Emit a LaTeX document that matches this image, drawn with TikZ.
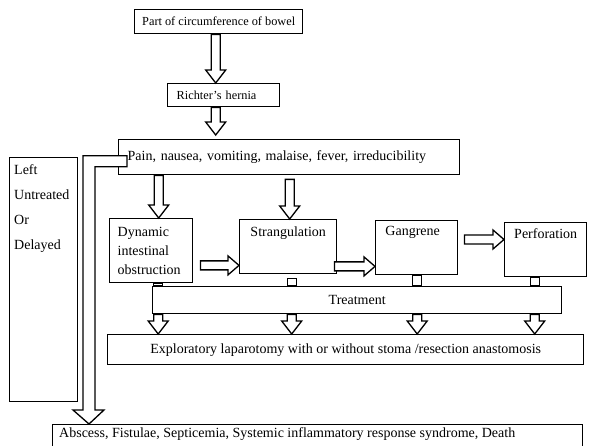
\documentclass[tikz,border=0pt]{standalone}
\usepackage{fontspec}
\setmainfont{Liberation Serif}
\usetikzlibrary{calc}

\newcommand{\txtbig}{\fontsize{14}{16}\selectfont}
\newcommand{\txtsmall}{\fontsize{12.3}{14}\selectfont}

\tikzset{
  box/.style={draw, line width=1.4pt, anchor=north west, inner sep=0pt, font=\txtbig},
  blockarrow/.style={draw, line width=1.3pt, fill=white, line join=miter},
}

% hollow block arrow pointing down: x from #1, tip at the y of #2
\newcommand{\downblock}[2]{%
  \draw[blockarrow] let \p1=(#1), \p2=(#2) in
    (\x1-4.5pt,\y1) -- (\x1-4.5pt,\y2+13pt) -- (\x1-10pt,\y2+13pt) -- (\x1,\y2)
    -- (\x1+10pt,\y2+13pt) -- (\x1+4.5pt,\y2+13pt) -- (\x1+4.5pt,\y1) -- cycle;}
% hollow block arrow pointing right: y from #1, tip at the x of #2
\newcommand{\rightblock}[2]{%
  \draw[blockarrow] let \p1=(#1), \p2=(#2) in
    (\x1,\y1+4.5pt) -- (\x2-11pt,\y1+4.5pt) -- (\x2-11pt,\y1+9.5pt) -- (\x2,\y1)
    -- (\x2-11pt,\y1-9.5pt) -- (\x2-11pt,\y1-4.5pt) -- (\x1,\y1-4.5pt) -- cycle;}
% short hollow stem into the treatment box
\newcommand{\stub}[2]{%
  \draw[blockarrow] let \p1=(#1), \p2=(#2) in
    (\x1-4.5pt,\y1) rectangle (\x1+4.5pt,\y2);}

\begin{document}
\begin{tikzpicture}[x=1pt,y=-1pt,font=\txtbig]
  \useasboundingbox (0,0) rectangle (589,446);

  \node[box, minimum width=168pt, minimum height=24pt, font=\txtsmall] (bowel) at (134,9) {Part of circumference of bowel};
  \node[box, minimum width=112pt, minimum height=23pt, text width=94pt, inner xsep=9pt, align=left, font=\txtsmall] (richter) at (167,83) {Richter’s hernia};
  \node[box, minimum width=341pt, minimum height=35pt, text width=323pt, inner xsep=9pt, align=left] (pain) at (118,139) {Pain, nausea, vomiting, malaise, fever, irreducibility};
  \node[box, minimum width=68pt, minimum height=244pt,
    label={[anchor=north west, xshift=5pt, yshift=-7pt, inner sep=0pt, align=left, font=\fontsize{14}{25}\selectfont]north west:{Left\\Untreated\\Or\\Delayed}}] (untreated) at (9,157) {};

  \node[box, minimum width=83pt, minimum height=64pt, text width=67pt, inner xsep=8pt, align=left, font=\fontsize{14}{19}\selectfont] (dyn) at (109,218) {Dynamic\\intestinal\\obstruction};
  \node[box, minimum width=97pt, minimum height=54pt,
    label={[anchor=north, yshift=-8pt, inner sep=0pt, font=\txtbig]north:Strangulation}] (strang) at (239,219) {};
  \node[box, minimum width=82pt, minimum height=54pt,
    label={[anchor=north, xshift=-4pt, yshift=-6pt, inner sep=0pt, font=\txtbig]north:Gangrene}] (gang) at (375,220) {};
  \node[box, minimum width=82pt, minimum height=54pt,
    label={[anchor=north, yshift=-6pt, inner sep=0pt, font=\txtbig]north:Perforation}] (perf) at (504,222) {};

  \node[box, minimum width=409pt, minimum height=27pt] (treat) at (152,286) {Treatment};
  \node[box, minimum width=476pt, minimum height=30pt] (explo) at (107,334) {Exploratory laparotomy with or without stoma /resection anastomosis};
  \node[box, minimum width=530pt, minimum height=40pt,
    label={[anchor=north west, xshift=7pt, yshift=-3pt, inner sep=0pt, font=\txtbig]north west:{Abscess, Fistulae, Septicemia, Systemic inflammatory response syndrome, Death}}] (absc) at (52,424) {};

  % top chain
  \downblock{$(bowel.south)+(-3,0)$}{richter.north}
  \downblock{$(richter.south)+(-8,0)$}{$(pain.north)+(0,-4)$}
  \downblock{$(dyn.north |- pain.south)+(7.5,0)$}{dyn.north}
  \downblock{$(strang.north |- pain.south)+(1.5,4)$}{strang.north}

  % progression
  \rightblock{$(dyn.east |- strang.south)+(7,-9)$}{strang.west}
  \rightblock{$(strang.south east)+(-3,-8)$}{gang.west}
  \rightblock{$(gang.north east)+(6,19.5)$}{perf.west}

  % into treatment
  \stub{$(dyn.south)+(7,0)$}{treat.north}
  \stub{$(strang.south)+(3.5,4)$}{treat.north}
  \stub{$(gang.south)+(0.5,0)$}{treat.north}
  \stub{$(perf.south)+(-11,0)$}{treat.north}

  % treatment to laparotomy
  \downblock{$(dyn.south |- treat.south)+(7,0)$}{explo.north}
  \downblock{$(strang.south |- treat.south)+(3.5,0)$}{explo.north}
  \downblock{$(gang.south |- treat.south)+(0.5,0)$}{explo.north}
  \downblock{$(perf.south |- treat.south)+(-11,0)$}{explo.north}

  % untreated path
  \draw[blockarrow] let \p1=($(pain.west)+(9,4)$), \p2=($(absc.north west)+(37,0)$) in
    (\x1,\y1+5.5pt) -- (\x2-6pt,\y1+5.5pt) -- (\x2-6pt,\y2+14pt) -- (\x2-16pt,\y2+14pt)
    -- (\x2,\y2) -- (\x2+15pt,\y2+14pt) -- (\x2+6pt,\y2+14pt) -- (\x2+6pt,\y1-5.5pt)
    -- (\x1,\y1-5.5pt) -- cycle;
\end{tikzpicture}
\end{document}
